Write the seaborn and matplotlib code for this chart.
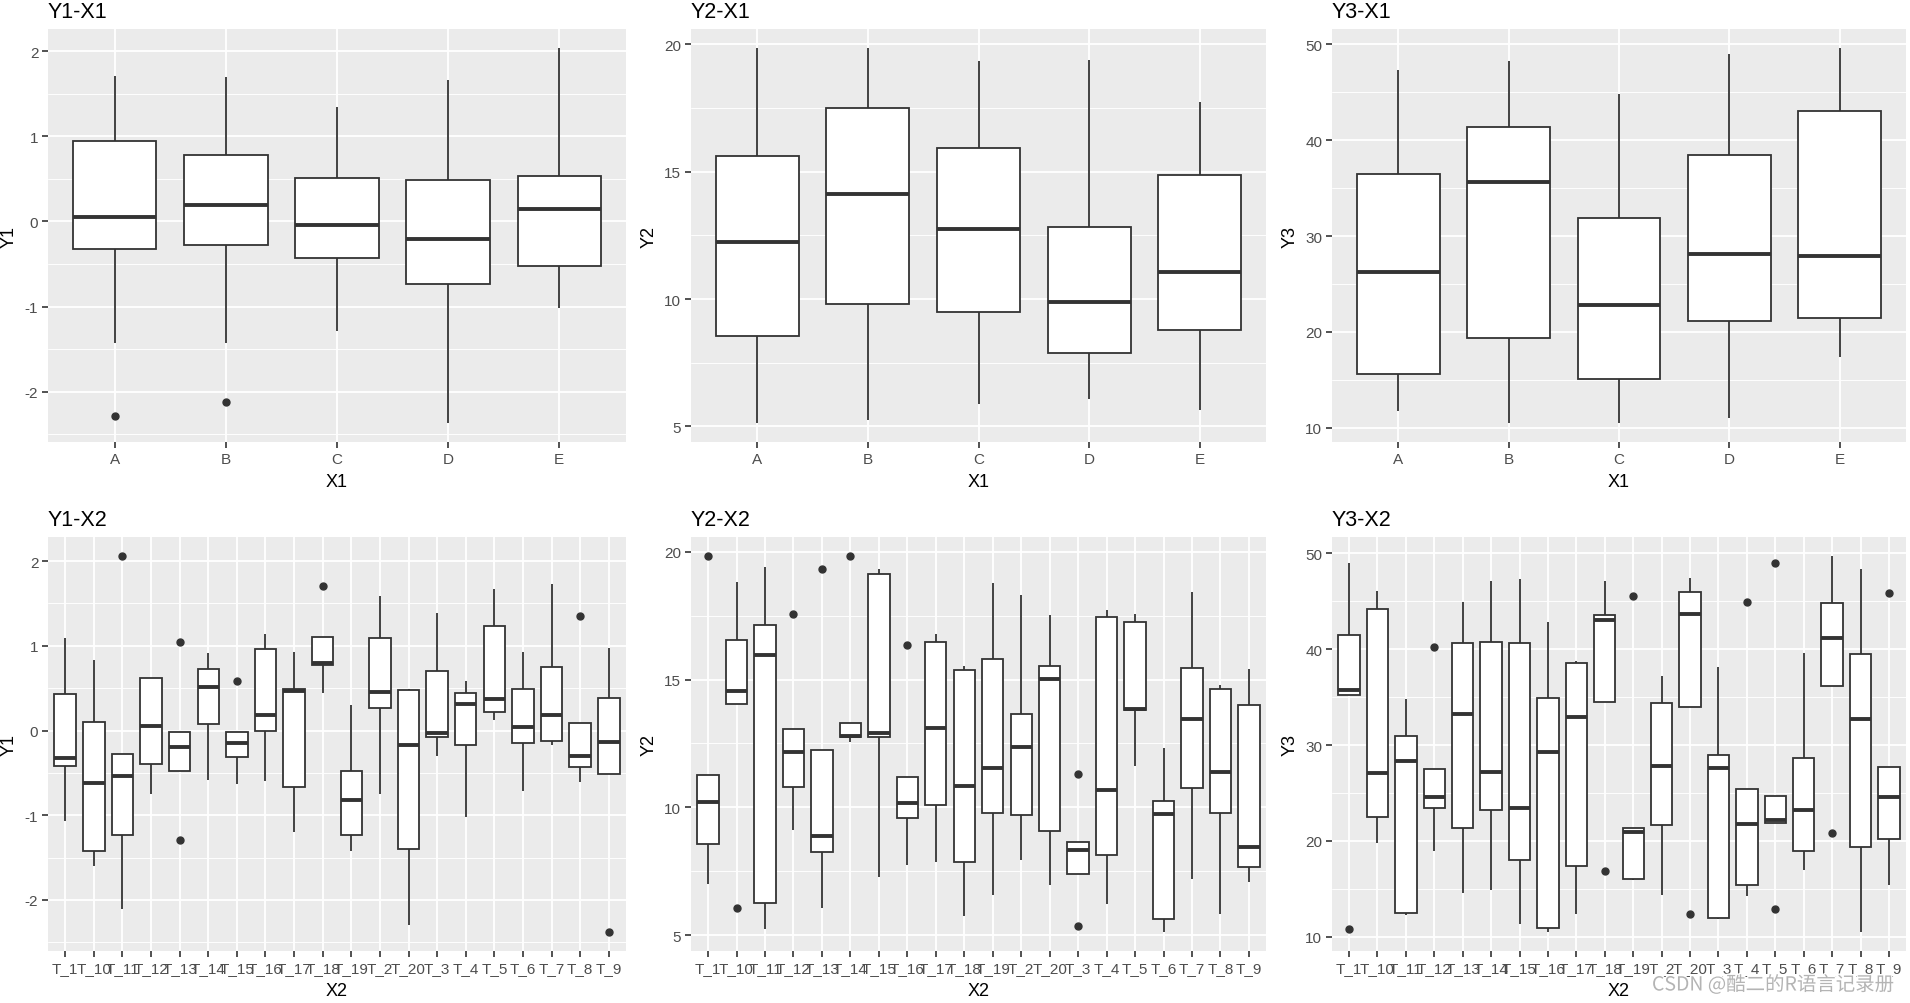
import matplotlib
matplotlib.use("Agg")
import pandas as pd
import matplotlib.pyplot as plt
from matplotlib.ticker import MultipleLocator
import matplotlib.patheffects as pe
import seaborn as sns

x1_groups = ["A", "B", "C", "D", "E"]
x2_groups = ["T_1", "T_10", "T_11", "T_12", "T_13", "T_14", "T_15", "T_16", "T_17",
             "T_18", "T_19", "T_2", "T_20", "T_3", "T_4", "T_5", "T_6", "T_7", "T_8", "T_9"]

# values read off the boxes: lower whisker end, lower hinge, median, upper hinge,
# upper whisker end, outliers
y1_x1_lo = [-1.43, -1.43, -1.29, -2.37, -1.02]
y1_x1_q1 = [-0.32, -0.28, -0.435, -0.729, -0.518]
y1_x1_med = [0.047, 0.19, -0.047, -0.208, 0.145]
y1_x1_q3 = [0.95, 0.78, 0.506, 0.482, 0.53]
y1_x1_hi = [1.71, 1.70, 1.345, 1.663, 2.04]
y1_x1_out = [[-2.29], [-2.12], [], [], []]

y2_x1_lo = [5.12, 5.25, 5.87, 6.07, 5.63]
y2_x1_q1 = [8.56, 9.82, 9.50, 7.86, 8.80]
y2_x1_med = [12.25, 14.13, 12.76, 9.90, 11.07]
y2_x1_q3 = [15.62, 17.50, 15.92, 12.82, 14.86]
y2_x1_hi = [19.87, 19.87, 19.36, 19.40, 17.74]
y2_x1_out = [[], [], [], [], []]

y3_x1_lo = [11.74, 10.49, 10.49, 11.01, 17.36]
y3_x1_q1 = [15.63, 19.38, 15.10, 21.15, 21.46]
y3_x1_med = [26.25, 35.66, 22.85, 28.13, 27.92]
y3_x1_q3 = [36.46, 41.35, 31.88, 38.44, 42.99]
y3_x1_hi = [47.33, 48.26, 44.83, 48.99, 49.62]
y3_x1_out = [[], [], [], [], []]

y1_x2_lo = [-1.065, -1.595, -2.102, -0.750, -0.472, -0.585, -0.629, -0.593, -1.202, 0.440,
            -1.418, -0.747, -2.291, -0.299, -1.018, 0.126, -0.711, -0.169, -0.605, -0.519]
y1_x2_q1 = [-0.424, -1.426, -1.238, -0.393, -0.472, 0.079, -0.318, 0.0, -0.672, 0.778,
            -1.238, 0.271, -1.403, -0.075, -0.169, 0.224, -0.153, -0.118, -0.436, -0.519]
y1_x2_med = [-0.326, -0.625, -0.542, 0.059, -0.189, 0.511, -0.153, 0.189, 0.464, 0.802,
             -0.825, 0.460, -0.165, -0.035, 0.318, 0.377, 0.047, 0.189, -0.295, -0.130]
y1_x2_q3 = [0.432, 0.102, -0.275, 0.625, -0.016, 0.731, -0.016, 0.963, 0.491, 1.108,
            -0.472, 1.096, 0.479, 0.707, 0.448, 1.238, 0.495, 0.754, 0.094, 0.389]
y1_x2_hi = [1.088, 0.837, -0.275, 0.625, -0.016, 0.912, -0.016, 1.136, 0.923, 1.108,
            0.306, 1.583, 0.491, 1.383, 0.582, 1.666, 0.923, 1.725, 0.094, 0.971]
y1_x2_out = [[], [], [2.063], [], [1.049, -1.297], [], [0.589], [], [], [1.709],
             [], [], [], [], [], [], [], [], [1.356], [-2.381]]

y2_x2_lo = [7.00, 14.05, 5.24, 9.11, 6.06, 12.55, 7.27, 7.74, 7.87, 5.74,
            6.57, 7.94, 6.96, 7.40, 6.21, 11.61, 5.12, 7.20, 5.85, 7.10]
y2_x2_q1 = [8.57, 14.05, 6.27, 10.80, 8.26, 12.76, 12.76, 9.59, 10.09, 7.87,
            9.79, 9.71, 9.08, 7.40, 8.14, 13.82, 5.64, 10.77, 9.79, 7.67]
y2_x2_med = [10.22, 14.56, 15.98, 12.17, 8.89, 12.80, 12.92, 10.18, 13.11, 10.84,
             11.55, 12.37, 15.03, 8.34, 10.67, 13.86, 9.74, 13.47, 11.39, 8.46]
y2_x2_q3 = [11.26, 16.54, 17.13, 13.07, 12.25, 13.31, 19.13, 11.20, 16.47, 15.37,
            15.80, 13.65, 15.54, 8.65, 17.46, 17.25, 10.24, 15.44, 14.63, 14.00]
y2_x2_hi = [11.26, 18.80, 19.39, 13.07, 12.25, 13.31, 19.33, 11.20, 16.80, 15.54,
            18.76, 18.32, 17.53, 8.65, 17.74, 17.57, 12.33, 18.43, 14.78, 15.42]
y2_x2_out = [[19.84], [6.07], [], [17.57], [19.33], [19.84], [], [16.36], [], [],
             [], [], [], [11.31, 5.38], [], [], [], [], [], []]

y3_x2_lo = [35.21, 19.76, 12.33, 18.92, 14.55, 14.86, 11.32, 10.52, 12.40, 34.51,
            15.90, 14.34, 33.96, 11.84, 14.24, 21.91, 16.94, 36.15, 10.49, 15.38]
y3_x2_q1 = [35.21, 22.50, 12.50, 23.44, 21.35, 23.23, 18.06, 10.94, 17.40, 34.51,
            16.04, 21.63, 33.96, 11.98, 15.42, 21.91, 18.96, 36.15, 19.38, 20.21]
y3_x2_med = [35.73, 27.08, 28.33, 24.58, 33.23, 27.19, 23.44, 29.27, 32.92, 43.02,
             20.97, 27.81, 43.65, 27.60, 21.77, 22.15, 23.23, 41.15, 32.71, 24.62]
y3_x2_q3 = [41.42, 44.17, 30.94, 27.47, 40.59, 40.69, 40.59, 34.86, 38.54, 43.51,
            21.32, 34.38, 45.90, 28.92, 25.38, 24.69, 28.65, 44.76, 39.48, 27.71]
y3_x2_hi = [48.99, 46.04, 34.79, 27.47, 44.90, 47.12, 47.33, 42.81, 38.78, 47.12,
            21.32, 37.22, 47.43, 38.13, 25.38, 24.69, 39.62, 49.72, 48.37, 27.71]
y3_x2_out = [[10.83], [], [], [40.21], [], [], [], [], [], [16.88],
             [45.52], [], [12.40], [], [44.90], [48.96, 12.92], [], [20.83], [], [45.83]]


def long_table(groups, lo, q1, med, q3, hi, out, xname, yname):
    # repeat the hinges/median so the box statistics come out as read
    rows = []
    for g, a, b, c, d, e, o in zip(groups, lo, q1, med, q3, hi, out):
        vals = [a] + [b] * 5 + [c] * 5 + [d] * 5 + [e] + list(o)
        rows += [(g, v) for v in vals]
    return pd.DataFrame(rows, columns=[xname, yname])


sns.set_style("darkgrid", {"axes.facecolor": "#EBEBEB", "grid.color": "white"})
plt.rcParams["font.family"] = ["Liberation Sans", "DejaVu Sans"]
plt.rcParams["axes.unicode_minus"] = False

fig = plt.figure(figsize=(19.1, 10.04), dpi=100)
W, H = 1910, 1004
cols = [(48, 626), (691, 1266), (1332, 1906)]
rows = [(30, 443), (538, 952)]


def draw(pos, df, xname, yname, order, major):
    (x0, x1), (y0, y1) = pos
    ax = fig.add_axes([x0 / W, 1 - y1 / H, (x1 - x0) / W, (y1 - y0) / H])
    sns.boxplot(data=df, x=xname, y=yname, order=order, ax=ax, color="white",
                saturation=1, linecolor="#333333", linewidth=1.3, width=0.75,
                whis=1.5, showcaps=False, fliersize=5,
                medianprops={"linewidth": 2.8, "color": "#333333"},
                flierprops={"marker": "o", "markersize": 5,
                            "markerfacecolor": "#333333", "markeredgecolor": "#333333"})
    lo, hi = df[yname].min(), df[yname].max()
    pad = 0.05 * (hi - lo)
    ax.set_ylim(lo - pad, hi + pad)
    ax.set_xlim(-0.6, len(order) - 0.4)
    ax.yaxis.set_major_locator(MultipleLocator(major))
    ax.yaxis.set_minor_locator(MultipleLocator(major / 2))
    ax.set_axisbelow(True)
    ax.grid(True, which="major", axis="both", color="white", linewidth=1.3)
    ax.grid(True, which="minor", axis="y", color="white", linewidth=0.65)
    ax.tick_params(which="minor", length=0)
    ax.tick_params(which="major", length=4, width=1.2, color="#333333",
                   labelcolor="#4D4D4D", labelsize=11, pad=3,
                   bottom=True, left=True)
    for s in ax.spines.values():
        s.set_visible(False)
    ax.set_title(f"{yname}-{xname}", loc="left", fontsize=15.5, pad=9, color="black")
    ax.set_xlabel(xname, fontsize=13, labelpad=5, color="black")
    ax.set_ylabel(yname, fontsize=13, labelpad=5, color="black")
    return ax


draw((cols[0], rows[0]), long_table(x1_groups, y1_x1_lo, y1_x1_q1, y1_x1_med, y1_x1_q3,
                                    y1_x1_hi, y1_x1_out, "X1", "Y1"), "X1", "Y1", x1_groups, 1)
draw((cols[1], rows[0]), long_table(x1_groups, y2_x1_lo, y2_x1_q1, y2_x1_med, y2_x1_q3,
                                    y2_x1_hi, y2_x1_out, "X1", "Y2"), "X1", "Y2", x1_groups, 5)
draw((cols[2], rows[0]), long_table(x1_groups, y3_x1_lo, y3_x1_q1, y3_x1_med, y3_x1_q3,
                                    y3_x1_hi, y3_x1_out, "X1", "Y3"), "X1", "Y3", x1_groups, 10)
draw((cols[0], rows[1]), long_table(x2_groups, y1_x2_lo, y1_x2_q1, y1_x2_med, y1_x2_q3,
                                    y1_x2_hi, y1_x2_out, "X2", "Y1"), "X2", "Y1", x2_groups, 1)
draw((cols[1], rows[1]), long_table(x2_groups, y2_x2_lo, y2_x2_q1, y2_x2_med, y2_x2_q3,
                                    y2_x2_hi, y2_x2_out, "X2", "Y2"), "X2", "Y2", x2_groups, 5)
draw((cols[2], rows[1]), long_table(x2_groups, y3_x2_lo, y3_x2_q1, y3_x2_med, y3_x2_q3,
                                    y3_x2_hi, y3_x2_out, "X2", "Y3"), "X2", "Y3", x2_groups, 10)

# watermark
fig.text(1652 / W, 1 - 986 / H, "CSDN @酷二的R语言记录册", ha="left", va="center",
         fontsize=14, color="#B4B4B4", family=["Noto Sans CJK SC", "DejaVu Sans"],
         path_effects=[pe.withStroke(linewidth=2, foreground="white")])

fig.savefig("out.png", dpi=100)
